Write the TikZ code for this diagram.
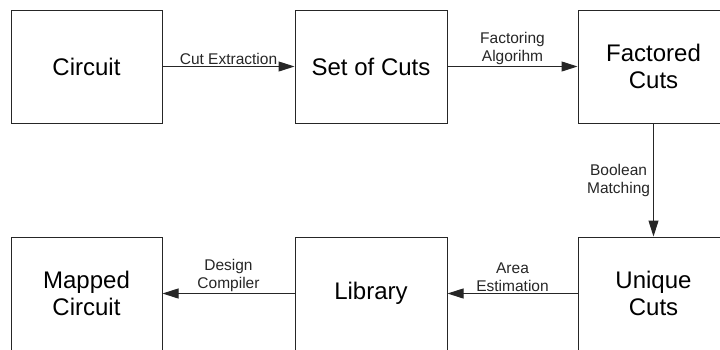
\documentclass[tikz,border=0pt]{standalone}
\usepackage{fontspec}
\setmainfont{Liberation Sans}
\usetikzlibrary{arrows.meta}
\begin{document}
\begin{tikzpicture}[x=1pt,y=-1pt,
  block/.style={draw=black!85, line width=1pt, minimum width=151pt, minimum height=113pt,
    inner sep=0pt, align=center, font=\fontsize{24}{27.5}\selectfont},
  flow/.style={draw=black!85, line width=1pt, -{Triangle[length=16pt,width=10pt]}},
  tag/.style={font=\fontsize{15.5}{18}\selectfont, align=center, inner sep=1.5pt, text=black!85}]
\useasboundingbox (0,0) rectangle (720,349);
\clip (0,0) rectangle (720,349);
% top row
\node[block] (circ) at (86.5,66.5) {Circuit};
\node[block, minimum width=152pt] (cuts) at (371,66.5) {Set of Cuts};
\node[block] (fact) at (653.5,66.5) {Factored\\Cuts};
% bottom row (boxes run past the lower edge)
\node[block] (mapped) at (86.5,293.5) {Mapped\\Circuit};
\node[block, minimum width=152pt] (lib) at (371,293.5) {Library};
\node[block] (uniq) at (653.5,293.5) {Unique\\Cuts};
% connectors
\draw[flow] (circ) -- (cuts) node[midway, above, tag] {Cut Extraction};
\draw[flow] (cuts) -- (fact) node[midway, above, tag] {Factoring\\Algorihm};
\draw[flow] (fact) -- (uniq) node[midway, left, tag, inner sep=3pt] {Boolean\\Matching};
\draw[flow] (uniq) -- (lib) node[midway, above, tag] {Area\\Estimation};
\draw[flow] (lib) -- (mapped) node[midway, above, tag] {Design\\Compiler};
\end{tikzpicture}
\end{document}
